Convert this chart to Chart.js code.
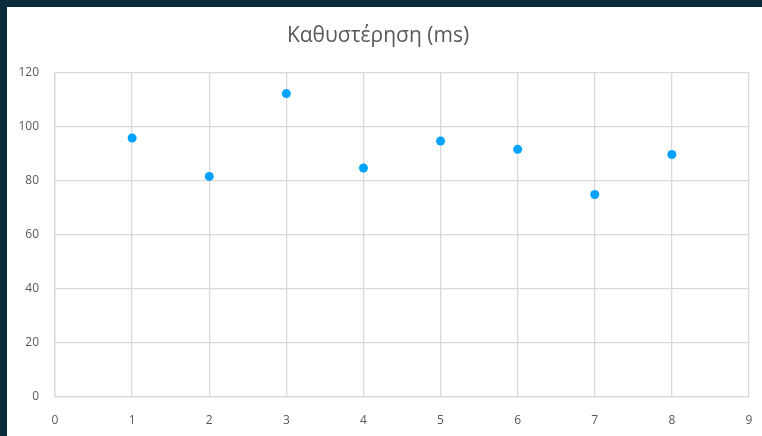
<!DOCTYPE html>
<html>
<head>
<meta charset="utf-8">
<script src="https://cdn.jsdelivr.net/npm/chart.js@4/dist/chart.umd.min.js"></script>
<style>
  html, body { margin: 0; padding: 0; background: #072b3a; }
  #wrap {
    position: absolute; left: 7px; top: 7px;
    width: 755px; height: 429px; background: #ffffff;
  }
</style>
</head>
<body>
<div id="wrap"><canvas id="chart" width="755" height="429"></canvas></div>
<script>
// data
const chartTitle = "Καθυστέρηση (ms)";
const xValues = [1, 2, 3, 4, 5, 6, 7, 8];
const delayMs = [95.7, 81.5, 112.1, 84.6, 94.6, 91.5, 74.8, 89.6];
const xTicks = [0, 1, 2, 3, 4, 5, 6, 7, 8, 9];
const yTicks = [0, 20, 40, 60, 80, 100, 120];

const gridColor = "#d9d9d9";
const textColor = "#595959";

const points = xValues.map((x, i) => ({ x: x, y: delayMs[i] }));

new Chart(document.getElementById("chart"), {
  type: "scatter",
  data: {
    datasets: [{
      label: chartTitle,
      data: points,
      backgroundColor: "#00a2ff",
      borderColor: "#00a2ff",
      pointRadius: 4.5,
      borderWidth: 0
    }]
  },
  options: {
    responsive: false,
    animation: false,
    layout: { padding: { left: 0, right: 13, top: 0, bottom: 0 } },
    plugins: {
      legend: { display: false },
      tooltip: { enabled: false },
      title: {
        display: true,
        text: chartTitle,
        color: textColor,
        font: { family: "'Open Sans', sans-serif", size: 21, weight: "normal" },
        padding: { top: 16, bottom: 24 }
      }
    },
    scales: {
      x: {
        type: "linear",
        min: xTicks[0],
        max: xTicks[xTicks.length - 1],
        afterBuildTicks: (scale) => { scale.ticks = xTicks.map(v => ({ value: v })); },
        afterFit: (scale) => { scale.height = 39; },
        // tick marks hidden, only used to push the labels down
        grid: { color: gridColor, lineWidth: 1.3, drawTicks: true, tickLength: 14, tickColor: "transparent" },
        border: { color: gridColor, width: 1.3 },
        ticks: {
          color: textColor,
          padding: 2,
          font: { family: "'Open Sans', sans-serif", size: 12 }
        }
      },
      y: {
        min: yTicks[0],
        max: yTicks[yTicks.length - 1],
        afterBuildTicks: (scale) => { scale.ticks = yTicks.map(v => ({ value: v })); },
        afterFit: (scale) => { scale.width = 48; },
        grid: { color: gridColor, lineWidth: 1.3, drawTicks: false },
        border: { color: gridColor, width: 1.3 },
        ticks: {
          color: textColor,
          padding: 16,
          font: { family: "'Open Sans', sans-serif", size: 12 }
        }
      }
    }
  }
});
</script>
</body>
</html>
